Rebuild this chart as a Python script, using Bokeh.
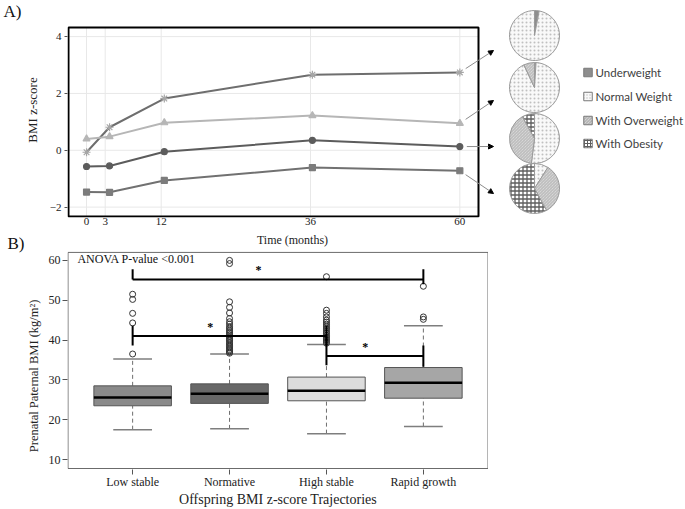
import math
from bokeh.plotting import figure
from bokeh.models import (Range1d, FixedTicker, LinearAxis, Arrow, NormalHead,
                          ColumnDataSource)
from bokeh.layouts import column
from bokeh.embed import file_html
from bokeh.resources import INLINE
from bokeh.core.properties import value

# ---------------- Panel A data ----------------
months = [0, 3.7, 12.5, 36.3, 60]
rapid_growth = [-0.07, 0.81, 1.82, 2.66, 2.74]
high_stable = [0.40, 0.48, 0.97, 1.22, 0.95]
normative = [-0.57, -0.55, -0.05, 0.35, 0.13]
low_stable = [-1.47, -1.48, -1.06, -0.61, -0.72]
x_ticks_a = [0, 3, 12, 36, 60]
y_ticks_a = [-2, 0, 2, 4]

weight_classes = ["Underweight", "Normal Weight", "With Overweight", "With Obesity"]
pie1 = [3, 97, 0, 0]
pie2 = [1, 92, 7, 0]
pie3 = [0, 52, 40, 8]
pie4 = [0, 9, 33, 58]

# ---------------- Panel B data ----------------
groups = ["Low stable", "Normative", "High stable", "Rapid growth"]
q1 = [23.5, 24.1, 24.75, 25.4]
median = [25.6, 26.5, 27.3, 29.3]
q3 = [28.5, 29.0, 30.7, 33.1]
whisk_lo = [17.5, 17.7, 16.5, 18.3]
whisk_hi = [35.25, 36.5, 38.9, 43.6]
out_low = [36.5, 44.3, 46.7, 50.2, 51.5]
out_norm = [36.7, 37.0, 37.3, 37.6, 38.0, 38.3, 38.7, 39.0, 39.4, 39.8, 40.1, 40.5,
            40.9, 41.3, 41.7, 42.1, 42.5, 43.0, 43.4, 44.0, 44.6, 45.4, 46.8, 48.2,
            49.6, 59.2, 60.0]
out_high = [39.2, 39.6, 40.0, 40.4, 40.8, 41.2, 41.7, 42.1, 42.6, 43.0, 43.5, 44.0,
            44.5, 45.0, 45.8, 46.7, 47.5, 55.9]
out_rapid = [45.2, 45.8, 53.5]
y_ticks_b = [10, 20, 30, 40, 50, 60]
# significance brackets
br_x0 = [1, 1, 3]
br_x1 = [4, 3, 4]
br_y = [55.2, 41.0, 36.0]
brv_x = [1, 4, 1, 3, 3, 4]
brv_lo = [55.2, 54.0, 38.6, 38.6, 33.7, 33.3]
brv_hi = [57.8, 57.8, 43.6, 43.6, 41.0, 38.6]
star_x = [2.30, 1.80, 3.40]
star_y = [57.5, 43.3, 38.25]
anova_text = "ANOVA P-value <0.001"

SERIF = "Liberation Serif"
W1 = 685
H1, H2 = 231, 278
FRAME_L = 67

# ---------------- Panel A layout (px inside panel A) ----------------
A_FT, A_FB = 2, 217
BOX_L_PX, BOX_R_PX, BOX_T_PX, BOX_B_PX = 68, 478, 27, 216
BOX_X = (-2.9, 63.0)
BOX_Y = (-2.33, 4.32)
sx = (BOX_R_PX - BOX_L_PX) / (BOX_X[1] - BOX_X[0])
sy = (BOX_B_PX - BOX_T_PX) / (BOX_Y[1] - BOX_Y[0])
X0 = BOX_X[0] - (BOX_L_PX - FRAME_L) / sx
X1 = BOX_X[1] + (W1 - BOX_R_PX) / sx
Y0 = BOX_Y[0] - (A_FB - BOX_B_PX) / sy
Y1 = BOX_Y[1] + (BOX_T_PX - A_FT) / sy


def ax(px):
    return X0 + (px - FRAME_L) / sx


def ay(py):
    return Y1 - (py - A_FT) / sy


def apx(x):
    return FRAME_L + (x - X0) * sx


def apy(y):
    return A_FT + (Y1 - y) * sy


def style_ticks(axis, size, standoff, tick_out=0, tick_color=None):
    axis.axis_line_color = None
    axis.minor_tick_line_color = None
    axis.major_tick_out = tick_out
    axis.major_tick_in = 0
    axis.major_tick_line_color = tick_color
    axis.major_label_standoff = standoff
    axis.major_label_text_font = SERIF
    axis.major_label_text_font_size = size
    axis.major_label_text_color = "#222222"


p1 = figure(width=W1, height=H1, x_range=Range1d(X0, X1), y_range=Range1d(Y0, Y1),
            output_backend="svg", toolbar_location=None,
            min_border_left=FRAME_L, min_border_right=0, min_border_top=A_FT,
            min_border_bottom=H1 - A_FB)
p1.outline_line_color = None
p1.xgrid.visible = False
p1.ygrid.visible = False

p1.segment(x0=x_ticks_a, x1=x_ticks_a, y0=[BOX_Y[0]] * len(x_ticks_a), y1=[BOX_Y[1]] * len(x_ticks_a),
           line_color="#e8e8e8", line_width=1)
p1.segment(x0=[BOX_X[0]] * len(y_ticks_a), x1=[BOX_X[1]] * len(y_ticks_a), y0=y_ticks_a, y1=y_ticks_a,
           line_color="#e8e8e8", line_width=1)

series = [
    (rapid_growth, "#6e6e6e", "asterisk", "#a6a6a6", 8),
    (high_stable, "#b6b6b6", "triangle", "#b6b6b6", 7),
    (normative, "#5c5c5c", "circle", "#5c5c5c", 6),
    (low_stable, "#717171", "square", "#7c7c7c", 6),
]
for vals, lc, mk, mc, ms in series:
    p1.line(months, vals, line_color=lc, line_width=2)
    p1.scatter(months, vals, marker=mk, size=ms, fill_color=mc, line_color=mc, line_width=1.2)

p1.quad(left=[BOX_X[0]], right=[BOX_X[1]], bottom=[BOX_Y[0]], top=[BOX_Y[1]],
        fill_color=None, line_color="black", line_width=2)

xa = p1.xaxis[0]
xa.ticker = FixedTicker(ticks=x_ticks_a)
style_ticks(xa, "11px", 0)

ya = p1.yaxis[0]
ya.ticker = FixedTicker(ticks=y_ticks_a)
style_ticks(ya, "11px", 3, tick_out=3, tick_color="#555555")
ya.axis_label = "BMI z-score"
ya.axis_label_text_font = SERIF
ya.axis_label_text_font_size = "13px"
ya.axis_label_text_font_style = "normal"
ya.axis_label_text_color = "#222222"
ya.axis_label_standoff = 7

# panel tag "A)"
A_TAG_Y = round(ay(11), 4)
a_ax = LinearAxis(ticker=FixedTicker(ticks=[A_TAG_Y]), major_label_overrides={A_TAG_Y: "A)"})
style_ticks(a_ax, "17px", 0)
a_ax.major_label_text_color = "#111111"
p1.add_layout(a_ax, "left")

# pies
PIE_CX = 534
PIE_CY = [35, 87, 138, 188]
PIE_R = 25
fills = ["#8e8e8e", "#f9f9f9", "#e4e4e4", "#ffffff"]
hatches = [" ", ".", "\\", "+"]
hatch_cols = ["#8e8e8e", "#c0c0c0", "#a8a8a8", "#5e5e5e"]
hatch_scales = [4, 4, 3, 4]
hatch_weights = [1, 1, 0.8, 1.3]
wd = dict(x=[], y=[], a0=[], a1=[], fill=[], hatch=[], hcol=[], hsc=[], hw=[])
for k, shares in enumerate([pie1, pie2, pie3, pie4]):
    tot = float(sum(shares))
    cum = 0.0
    for j, s in enumerate(shares):
        if s <= 0:
            continue
        a0 = math.pi / 2 - 2 * math.pi * cum / tot
        cum += s
        a1 = math.pi / 2 - 2 * math.pi * cum / tot
        wd["x"].append(ax(PIE_CX))
        wd["y"].append(ay(PIE_CY[k]))
        wd["a0"].append(a0)
        wd["a1"].append(a1)
        wd["fill"].append(fills[j])
        wd["hatch"].append(hatches[j])
        wd["hcol"].append(hatch_cols[j])
        wd["hsc"].append(hatch_scales[j])
        wd["hw"].append(hatch_weights[j])
p1.wedge(x="x", y="y", radius=PIE_R, radius_units="screen", start_angle="a0", end_angle="a1",
         direction="clock", fill_color="fill", hatch_pattern="hatch", hatch_color="hcol",
         hatch_scale="hsc", hatch_weight="hw", line_color="#9a9a9a", line_width=1,
         source=ColumnDataSource(wd))

# legend
LEG_SQ_X = 587.5
LEG_TX_X = 595
LEG_Y = [72, 96, 120, 143]
p1.rect(x=[ax(LEG_SQ_X)] * 4, y=[ay(v) for v in LEG_Y], width=8.5, height=8.5,
        width_units="screen", height_units="screen", fill_color=fills, hatch_pattern=hatches,
        hatch_color=hatch_cols, hatch_scale=3, line_color="#7a7a7a", line_width=1)
p1.text(x=[ax(LEG_TX_X)] * 4, y=[ay(v) for v in LEG_Y], text=weight_classes,
        text_font=value("Lato"), text_font_size="11.5px", text_color="#404040",
        text_baseline="middle", text_align="left")

# arrows from the 60-month points to the pies
ARROW_END = [(493, 50), (493, 100), (493, 146), (493, 193)]
ends = [rapid_growth[-1], high_stable[-1], normative[-1], low_stable[-1]]
ad = dict(x0=[], y0=[], x1=[], y1=[])
for (ex, ey), v in zip(ARROW_END, ends):
    px0, py0 = apx(months[-1]), apy(v)
    dxp, dyp = ex - px0, ey - py0
    n = math.hypot(dxp, dyp)
    ad["x0"].append(ax(px0 + 7 * dxp / n))
    ad["y0"].append(ay(py0 + 7 * dyp / n))
    ad["x1"].append(ax(ex))
    ad["y1"].append(ay(ey))
p1.add_layout(Arrow(end=NormalHead(size=5, fill_color="black", line_color="black"),
                    x_start="x0", y_start="y0", x_end="x1", y_end="y1",
                    source=ColumnDataSource(ad), line_color="#8c8c8c", line_width=1))

# ---------------- Panel B ----------------
W2 = 488
B_FT, B_FB = 0, 239              # frame top / bottom (px inside panel B)
B_BOX_T, B_BOX_B = 21, 238       # px of the box outline
pos = list(range(1, len(groups) + 1))
BX = (0.333, 4.667)
BY = (7.75, 62.0)
bsx = (W2 - FRAME_L - 1) / (BX[1] - BX[0])
bsy = (B_BOX_B - B_BOX_T) / (BY[1] - BY[0])
XR2 = (BX[0] - 0.5 / bsx, BX[1] + 0.5 / bsx)
YR2 = (BY[0] - (B_FB - B_BOX_B) / bsy, BY[1] + (B_BOX_T - B_FT) / bsy)


def bx(px):
    return XR2[0] + (px - FRAME_L) / bsx


def by(py):
    return YR2[1] - (py - B_FT) / bsy


p2 = figure(width=W2, height=H2, x_range=Range1d(*XR2), y_range=Range1d(*YR2),
            output_backend="svg", toolbar_location=None,
            min_border_left=FRAME_L, min_border_right=0, min_border_top=B_FT,
            min_border_bottom=H2 - B_FB)
p2.outline_line_color = None
p2.xgrid.visible = False
p2.ygrid.visible = False

box_cols = ["#8a8a8a", "#686868", "#dcdcdc", "#a6a6a6"]
half = 0.4
cap = 0.2
p2.segment(x0=pos, x1=pos, y0=q3, y1=whisk_hi, line_color="#6e6e6e", line_width=1, line_dash="4 3")
p2.segment(x0=pos, x1=pos, y0=whisk_lo, y1=q1, line_color="#6e6e6e", line_width=1, line_dash="4 3")
p2.segment(x0=[p - cap for p in pos], x1=[p + cap for p in pos], y0=whisk_hi, y1=whisk_hi,
           line_color="#7e7e7e", line_width=1.5)
p2.segment(x0=[p - cap for p in pos], x1=[p + cap for p in pos], y0=whisk_lo, y1=whisk_lo,
           line_color="#7e7e7e", line_width=1.5)
p2.vbar(x=pos, width=2 * half, bottom=q1, top=q3, fill_color=box_cols, line_color="#555555",
        line_width=1)
p2.segment(x0=[p - half for p in pos], x1=[p + half for p in pos], y0=median, y1=median,
           line_color="black", line_width=2.5)

ox, oy = [], []
for p, outs in zip(pos, [out_low, out_norm, out_high, out_rapid]):
    ox += [p] * len(outs)
    oy += outs
p2.scatter(ox, oy, marker="circle", size=6, fill_color=None, line_color="#333333", line_width=1)

p2.segment(x0=br_x0, x1=br_x1, y0=br_y, y1=br_y, line_color="black", line_width=2)
p2.segment(x0=brv_x, x1=brv_x, y0=brv_lo, y1=brv_hi, line_color="black", line_width=2)
p2.text(x=star_x, y=star_y, text=["*"] * len(star_x), text_font=value(SERIF),
        text_font_size="12px", text_font_style="bold", text_align="center",
        text_baseline="middle", text_color="black")
p2.text(x=[0.43], y=[60.3], text=[anova_text], text_font=value(SERIF),
        text_font_size="12px", text_baseline="middle", text_align="left", text_color="#111111")

# box outline
p2.quad(left=[BX[0]], right=[BX[1]], bottom=[BY[0]], top=[BY[1]], fill_color=None,
        line_color="#6b6b6b", line_width=1)

# x-axis title of panel A (sits just above panel B's box)
p2.text(x=[bx(292)], y=[by(9)], text=["Time (months)"], text_font=value(SERIF),
        text_font_size="12px", text_align="center", text_baseline="alphabetic",
        text_color="#222222")

xb = p2.xaxis[0]
xb.ticker = FixedTicker(ticks=pos)
xb.major_label_overrides = {p: g for p, g in zip(pos, groups)}
style_ticks(xb, "12px", 0, tick_out=5, tick_color="#555555")
xb.axis_label = "Offspring BMI z-score Trajectories"
xb.axis_label_text_font = SERIF
xb.axis_label_text_font_size = "14px"
xb.axis_label_text_font_style = "normal"
xb.axis_label_text_color = "#222222"
xb.axis_label_standoff = 0

yb = p2.yaxis[0]
yb.ticker = FixedTicker(ticks=y_ticks_b)
style_ticks(yb, "12px", 2, tick_out=5, tick_color="#555555")

# y title of panel B, centred where the reference puts it
YB_TITLE_AT = 31.0
yt_ax = LinearAxis(ticker=FixedTicker(ticks=[YB_TITLE_AT]),
                   major_label_overrides={YB_TITLE_AT: "Prenatal Paternal BMI (kg/m²)"},
                   major_label_orientation="vertical")
style_ticks(yt_ax, "12.5px", 4)
p2.add_layout(yt_ax, "left")

B_TAG_Y = round(by(12.5), 4)
b_ax = LinearAxis(ticker=FixedTicker(ticks=[B_TAG_Y]), major_label_overrides={B_TAG_Y: "B)"})
style_ticks(b_ax, "17px", 0)
b_ax.major_label_text_color = "#111111"
p2.add_layout(b_ax, "left")

layout = column(p1, p2, spacing=0)
open("out.html", "w").write(file_html(layout, INLINE))
